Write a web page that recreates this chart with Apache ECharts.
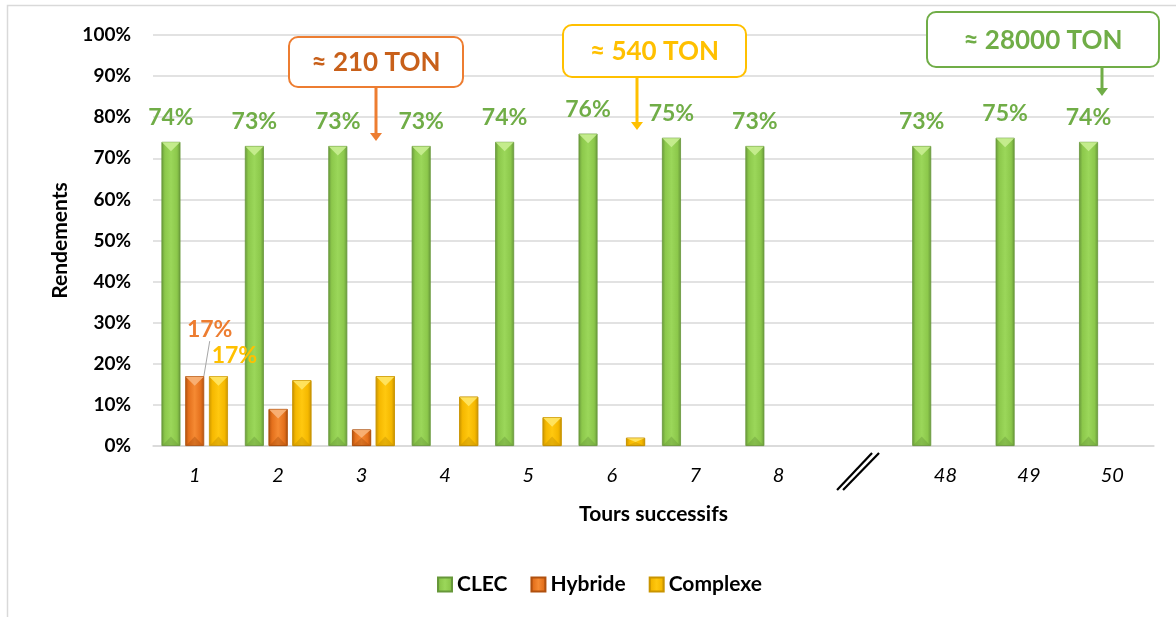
<!DOCTYPE html>
<html>
<head>
<meta charset="utf-8">
<script src="https://cdn.jsdelivr.net/npm/echarts@6/dist/echarts.min.js"></script>
<style>
html,body{margin:0;padding:0;background:#fff;}
#chart{width:1176px;height:617px;}
</style>
</head>
<body>
<div id="chart"></div>
<script>
// ---- data ----
const categories = ['1','2','3','4','5','6','7','8','','48','49','50'];
const clec     = [74, 73, 73, 73, 74, 76, 75, 73, null, 73, 75, 74];
const hybride  = [17, 9, 4, null, null, null, null, null, null, null, null, null];
const complexe = [17, 16, 17, 12, 7, 2, null, null, null, null, null, null];
const seriesNames = ['CLEC', 'Hybride', 'Complexe'];
const yTicks = [0, 100, 10];
const callouts = [
  {text: '≈ 210 TON'},
  {text: '≈ 540 TON'},
  {text: '≈ 28000 TON'}
];

const FONT = 'Lato';
const BAR_W = 19;
const BAR_GAP = 0.25;
const PITCH = BAR_W * (1 + BAR_GAP);

const palette = {
  CLEC:     {edge:'#67973a', mid:'#8cc84b', light:'#9bd75a', top:'#c9ee92', bottom:'#5e8c33', label:'#70ad47'},
  Hybride:  {edge:'#b0500e', mid:'#e4701c', light:'#f58a33', top:'#f8b47a', bottom:'#9e4409', label:'#ed7d31'},
  Complexe: {edge:'#c99400', mid:'#f5b800', light:'#ffc80f', top:'#ffe566', bottom:'#b58500', label:'#ffc000'}
};

function grad(p){
  return new echarts.graphic.LinearGradient(0,0,1,0,[
    {offset:0, color:p.edge},{offset:0.18, color:p.mid},{offset:0.5, color:p.light},
    {offset:0.82, color:p.mid},{offset:1, color:p.edge}
  ]);
}

function barSeries(name, data){
  const p = palette[name];
  return {
    name: name, type: 'bar', data: data.map(v => v == null ? '-' : v),
    barWidth: BAR_W, barGap: (BAR_GAP*100)+'%',
    itemStyle: {color: grad(p), borderColor: p.edge, borderWidth: 0.8},
    z: 2
  };
}

const sClec = barSeries('CLEC', clec);
sClec.label = {show:true, position:'top', distance:13, formatter:'{c}%',
  color: palette.CLEC.label, fontFamily: FONT, fontWeight:'bold', fontSize:23};

const sHyb = barSeries('Hybride', hybride);
sHyb.data[0] = {value: hybride[0], label:{show:true, position:'top', distance:4, formatter:'{c}%',
  color: palette.Hybride.label, fontFamily: FONT, fontWeight:'bold', fontSize:23}};
sHyb.labelLayout = function(params){ if (params.dataIndex === 0) return {dx: 15, dy: -31}; };
sHyb.labelLine = {show:true, lineStyle:{color:'#a6a6a6', width:1}, length2: 0};

const sCom = barSeries('Complexe', complexe);
sCom.data[0] = {value: complexe[0], label:{show:true, position:'top', distance:4, formatter:'{c}%',
  color: palette.Complexe.label, fontFamily: FONT, fontWeight:'bold', fontSize:23, offset:[16,-5]}};

// bevel overlay built from the same data via the axis scales
const overlayData = [];
[clec, hybride, complexe].forEach((arr, k) => {
  arr.forEach((v, i) => { if (v != null) overlayData.push([i, v, k]); });
});

const overlay = {
  type: 'custom', silent: true, z: 3, data: overlayData,
  renderItem: function(params, api){
    const cat = api.value(0), v = api.value(1), k = api.value(2);
    const p = palette[seriesNames[k]];
    const base = api.coord([cat, 0]);
    const top = api.coord([cat, v]);
    const cx = base[0] + (k-1)*PITCH;
    const l = cx - BAR_W/2, r = cx + BAR_W/2;
    const h = base[1] - top[1];
    const th = Math.min(BAR_W*0.5, h*0.5);
    return {type:'group', children:[
      {type:'polygon', shape:{points:[[l+0.5, top[1]+0.5],[r-0.5, top[1]+0.5],[cx, top[1]+th]]},
       style:{fill:p.top, opacity:0.9}},
      {type:'polygon', shape:{points:[[l+0.5, base[1]],[r-0.5, base[1]],[cx, base[1]-th]]},
       style:{fill:p.bottom, opacity:0.35}}
    ]};
  }
};

const chart = echarts.init(document.getElementById('chart'));
chart.setOption({
  animation: false,
  backgroundColor: '#fff',
  textStyle: {fontFamily: FONT},
  grid: {left: 153, right: 22, top: 35, bottom: 171, containLabel: false},
  legend: {
    data: seriesNames, bottom: 17, left: 432, itemWidth: 14, itemHeight: 14, itemGap: 23,
    icon: 'rect',
    textStyle: {fontFamily: FONT, fontWeight: 'bold', fontSize: 21, color: '#000'}
  },
  xAxis: {
    type: 'category', data: categories,
    name: 'Tours successifs', nameLocation: 'middle', nameGap: 58,
    nameTextStyle: {fontFamily: FONT, fontWeight: 'bold', fontSize: 21, color: '#000'},
    axisLine: {lineStyle: {color: '#d9d9d9', width: 1.5}},
    axisTick: {show: false},
    axisLabel: {fontFamily: FONT, fontStyle: 'italic', fontSize: 20, color: '#000', margin: 20}
  },
  yAxis: {
    type: 'value', min: yTicks[0], max: yTicks[1], interval: yTicks[2],
    name: 'Rendements', nameLocation: 'middle', nameGap: 82, nameRotate: 90,
    nameTextStyle: {fontFamily: FONT, fontWeight: 'bold', fontSize: 21, color: '#000'},
    axisLine: {show: false}, axisTick: {show: false},
    axisLabel: {formatter: '{value}%', fontFamily: FONT, fontWeight: 'bold', fontSize: 19, color: '#000', margin: 22},
    splitLine: {lineStyle: {color: '#d9d9d9', width: 1.5}}
  },
  series: [sClec, sHyb, sCom, overlay]
});

// ---- annotations (decorative) ----
function callout(text, color, textColor, box, arrowX, arrowEnd){
  const [x, y, w, h] = box;
  return [
    {type:'rect', shape:{x:x, y:y, width:w, height:h, r:9}, style:{fill:'#fff', stroke:color, lineWidth:2}, z:10},
    {type:'text', x: x + w/2, y: y + h/2 + 1, style:{text:text, fill:textColor, font:'bold 26px ' + FONT, align:'center', verticalAlign:'middle'}, z:11},
    {type:'line', shape:{x1:arrowX, y1:y+h, x2:arrowX, y2:arrowEnd-7}, style:{stroke:color, lineWidth:3}, z:10},
    {type:'polygon', shape:{points:[[arrowX-6, arrowEnd-8],[arrowX+6, arrowEnd-8],[arrowX, arrowEnd]]}, style:{fill:color}, z:10}
  ];
}
const g = [];
g.push({type:'rect', shape:{x:7.5, y:5.5, width:1200, height:700}, style:{fill:'none', stroke:'#d9d9d9', lineWidth:1.5}, silent:true});
g.push(...callout(callouts[0].text, '#ed7d31', '#c8601a', [289, 37, 174, 50], 376, 141));
g.push(...callout(callouts[1].text, '#ffc000', '#ffc000', [563, 25, 183, 52], 637, 130));
g.push(...callout(callouts[2].text, '#70ad47', '#70ad47', [927, 12, 232, 55], 1102, 96));
// axis break mark at the empty category
const bx = chart.convertToPixel({xAxisIndex:0}, 8);
const by = 472;
g.push({type:'line', shape:{x1:bx-25, y1:by+18, x2:bx+10, y2:by-19}, style:{stroke:'#000', lineWidth:2.2}});
g.push({type:'line', shape:{x1:bx-19, y1:by+18, x2:bx+17, y2:by-19}, style:{stroke:'#000', lineWidth:2.2}});
chart.setOption({graphic: g});
</script>
</body>
</html>
